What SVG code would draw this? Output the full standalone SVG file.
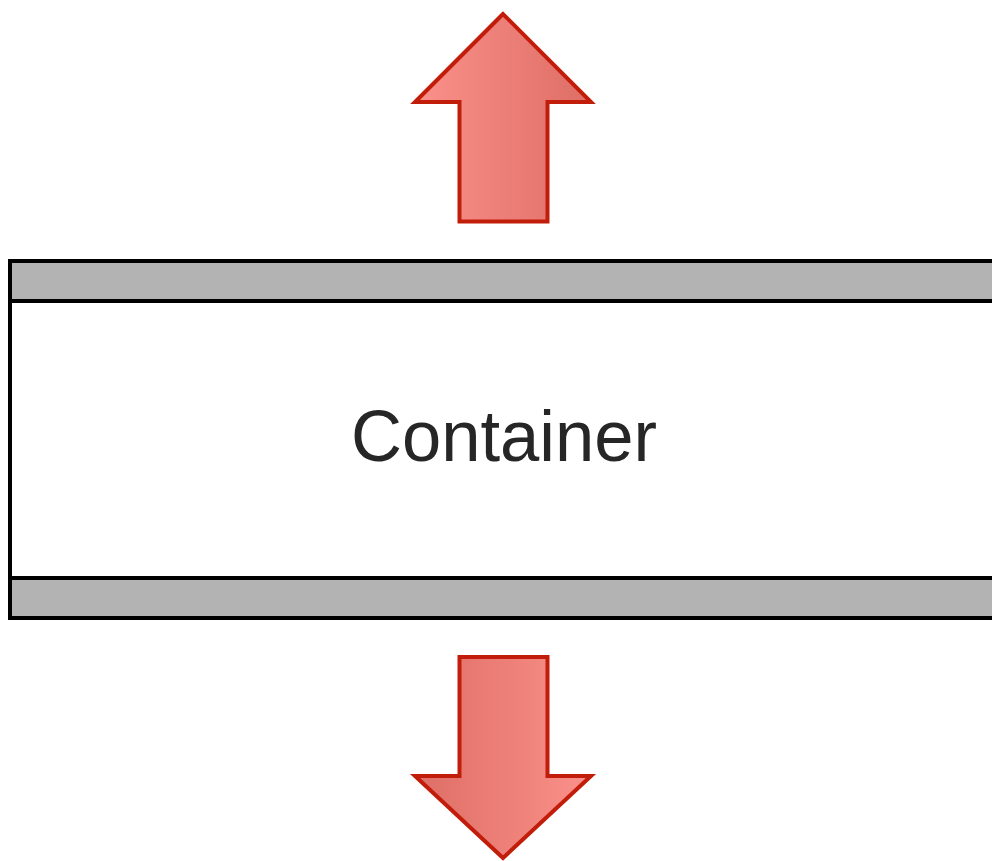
<svg xmlns="http://www.w3.org/2000/svg" width="992" height="861" viewBox="0 0 992 861">
  <style>
    .band { fill: #b3b3b3; stroke: #000; stroke-width: 4; }
    .body { fill: #ffffff; stroke: #000; stroke-width: 4; }
    .arrow { stroke: #c21d0a; stroke-width: 4; stroke-linejoin: miter; }
    .label { font-family: "Liberation Sans", Arial, sans-serif; font-size: 72px; fill: #262626; }
  </style>
  <defs>
    <linearGradient id="gUp" x1="0" y1="0" x2="1" y2="0">
      <stop offset="0" stop-color="#fa918a"/>
      <stop offset="1" stop-color="#de6e66"/>
    </linearGradient>
    <linearGradient id="gDown" x1="0" y1="0" x2="1" y2="0">
      <stop offset="0" stop-color="#de6e66"/>
      <stop offset="1" stop-color="#fa918a"/>
    </linearGradient>
  </defs>
  <g id="container">
    <rect class="body" x="10" y="261" width="990" height="357"/>
    <rect class="band" x="10" y="261" width="990" height="40"/>
    <rect class="band" x="10" y="578" width="990" height="40"/>
    <text class="label" x="504" y="461" text-anchor="middle" textLength="306" lengthAdjust="spacingAndGlyphs">Container</text>
  </g>
  <g id="arrow-up">
    <polygon class="arrow" fill="url(#gUp)" points="503,14 415,102 459.5,102 459.5,221.5 547.5,221.5 547.5,102 591,102"/>
  </g>
  <g id="arrow-down">
    <polygon class="arrow" fill="url(#gDown)" points="459.5,657 547.5,657 547.5,776 591,776 503,858 415,776 459.5,776"/>
  </g>
  <g id="connectors"></g>
</svg>
